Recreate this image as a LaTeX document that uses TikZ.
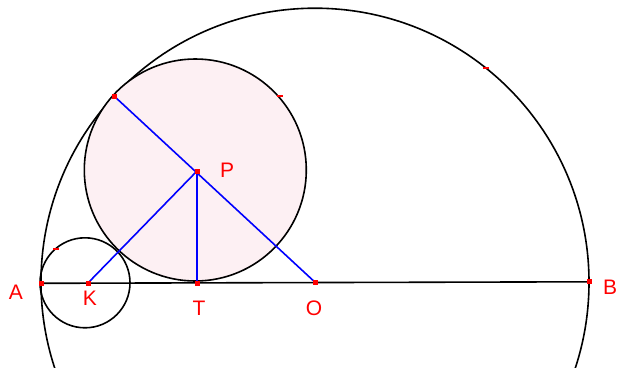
\documentclass[tikz,border=0pt]{standalone}
\usepackage{fontspec}
\setmainfont{Liberation Sans}
\definecolor{pinkfill}{HTML}{FDF0F3}
\definecolor{ptred}{HTML}{FF0000}
\begin{document}
\begin{tikzpicture}[x=1pt,y=-1pt,
  pt/.style={fill=ptred,minimum size=5pt,inner sep=0pt,draw=none,rectangle},
  tick/.style={fill=ptred,minimum width=6pt,minimum height=2.5pt,inner sep=0pt,rectangle},
  lbl/.style={text=ptred,font=\fontsize{21}{21}\selectfont,inner sep=0pt},
  circ/.style={draw=black,line width=1.6pt},
  seg/.style={draw=blue,line width=1.6pt}]
\useasboundingbox (0,0) rectangle (617,367);
\clip (0,0) rectangle (617,367);
% coordinates
\coordinate (Oc) at (315,282.2);
\coordinate (Pc) at (197,171);
\coordinate (Pcirc) at (195.3,170);
\coordinate (Kc) at (85,282.8);
\coordinate (Ac) at (41,283.3);
\coordinate (Bc) at (589,281.8);
\coordinate (Tc) at (197,283.5);
\coordinate (Sc) at (114,96);
\coordinate (Kp) at (88,283);
% circles
\draw[circ] (Oc) circle[radius=274];
\draw[circ,fill=pinkfill] (Pcirc) circle[radius=111];
\draw[circ] (Kc) circle[radius=45];
% line AB
\draw[circ] (Ac) -- (Bc);
% blue segments
\draw[seg] (Sc) -- (Oc);
\draw[seg] (Pc) -- (Kp);
\draw[seg] (Pc) -- (Tc);
% points
\node[pt] (A) at (Ac) {};
\node[pt] (B) at (Bc) {};
\node[pt] (O) at (Oc) {};
\node[pt] (P) at (Pc) {};
\node[pt] (T) at (Tc) {};
\node[pt] (K) at (Kp) {};
\node[pt] (S) at (Sc) {};
\node[tick] (t1) at (280,96) {};
\node[tick] (t2) at (486,68) {};
\node[tick] (t3) at (56,249) {};
% labels
\node[lbl] (lA) at (16,292) {A};
\node[lbl] (lB) at (610,287) {B};
\node[lbl] (lK) at (90,298) {K};
\node[lbl] (lT) at (199,308) {T};
\node[lbl] (lO) at (314,308) {O};
\node[lbl] (lP) at (227,170) {P};
\end{tikzpicture}
\end{document}
